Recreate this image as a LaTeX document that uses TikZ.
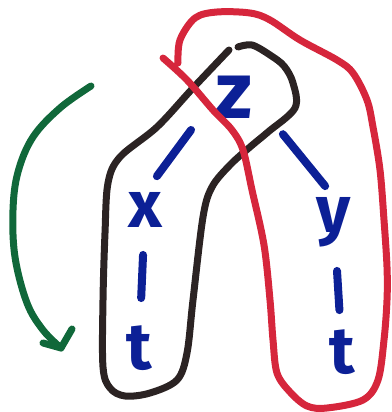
\documentclass[tikz,border=0pt]{standalone}
\usepackage{fontspec}
\setmainfont{Fira Sans}
\definecolor{inkblue}{RGB}{12,32,150}
\definecolor{inkblack}{RGB}{43,35,35}
\definecolor{inkred}{RGB}{214,38,60}
\definecolor{inkgreen}{RGB}{16,104,58}
\tikzset{
  letter/.style={inner sep=0pt, text=inkblue, font=\fontsize{66}{66}\selectfont\bfseries},
  treeedge/.style={draw=inkblue, line width=8pt, line cap=round},
  loopline/.style={line width=7pt, line cap=round, line join=round},
}
\begin{document}
\begin{tikzpicture}[x=1pt,y=-1pt]
\useasboundingbox (0,0) rectangle (391,412);
% letters
\node[letter, font=\fontsize{80}{80}\selectfont\bfseries] (z) at (234,97) {z};
\node[letter] (x) at (145,210) {x};
\node[letter] (t1) at (139,348) {t};
\node[letter] (y) at (334,222) {y};
\node[letter] (t2) at (342,352) {t};
% tree edges
\draw[treeedge, shorten <=41pt, shorten >=20pt] (z.west) -- (x.north);
\draw[treeedge, shorten <=48pt, shorten >=14pt] (z.east) -- (y.north);
\draw[treeedge, shorten <=45pt, shorten >=50pt] (x.center) -- (t1.center);
\draw[treeedge, shorten <=49pt, shorten >=42pt] (y.center) -- (t2.center);
% black loop
\draw[loopline, draw=inkblack] plot[smooth, tension=0.55] coordinates {
  (229,50) (193,88) (157,127) (120,157) (108,183) (105,233) (103,300)
  (103,367) (110,388) (125,396) (150,393) (177,380) (187,353) (193,300)
  (203,217) (212,187) (230,165) (250,147) (268,132) (295,108) (293,83)
  (284,66) (270,55) (252,45) (238,47)};
% red loop
\draw[loopline, draw=inkred] plot[smooth, tension=0.55] coordinates {
  (178,63) (180,40) (195,18) (217,12) (250,13) (270,20) (300,40) (337,60)
  (353,73) (367,100) (373,127) (380,170) (384,220) (387,267) (387,300)
  (384,340) (378,380) (363,400) (327,408) (307,406) (290,392) (277,373)
  (273,340) (270,300) (264,245) (252,190) (243,150) (232,130) (213,110)
  (187,80) (163,58)};
% green arrow
\coordinate (gt) at (61,348);
\draw[loopline, draw=inkgreen] plot[smooth, tension=0.6] coordinates {
  (91,86) (60,108) (33,137) (18,172) (13,210) (15,257) (27,303) (43,330) (61,348)};
\draw[loopline, draw=inkgreen] (43,343) -- (gt) -- (72,329);
\end{tikzpicture}
\end{document}
